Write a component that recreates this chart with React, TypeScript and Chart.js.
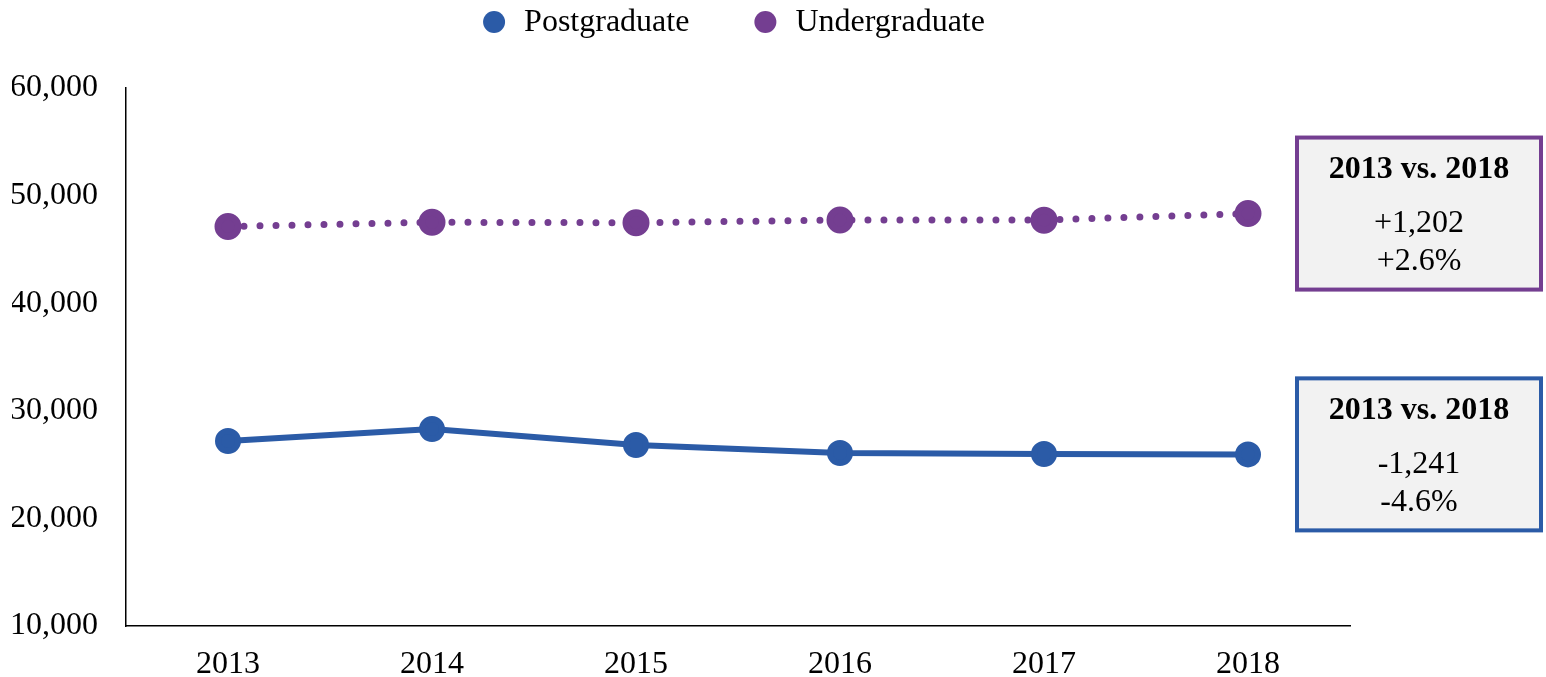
import React, { useEffect, useRef } from 'react';
import { Chart, registerables } from 'chart.js';

Chart.register(...registerables);

const years = ['2013', '2014', '2015', '2016', '2017', '2018'];
const postgraduate = [27190, 28300, 26820, 26080, 25990, 25950];
const undergraduate = [47130, 47520, 47480, 47730, 47720, 48330];
const yTickValues = [10000, 20000, 30000, 40000, 50000, 60000];
const seriesNames = ['Postgraduate', 'Undergraduate'];
const postgraduateBox = ['2013 vs. 2018', '-1,241', '-4.6%'];
const undergraduateBox = ['2013 vs. 2018', '+1,202', '+2.6%'];

const BLUE = '#2B5BA7';
const PURPLE = '#743E91';
const FONT = "'Liberation Serif', 'Times New Roman', serif";
const FS = 32;

const legendPlugin = {
  id: 'customLegend',
  afterDraw(chart: any) {
    const { ctx, chartArea } = chart;
    ctx.save();
    ctx.font = `${FS}px ${FONT}`;
    ctx.textBaseline = 'middle';
    ctx.textAlign = 'left';
    const items = chart.data.datasets.map((d: any) => ({
      text: d.label,
      color: d.pointBackgroundColor,
      w: ctx.measureText(d.label).width,
    }));
    const r = 11;
    const toText = 30;
    const gap = 76;
    let total = 0;
    items.forEach((it: any, i: number) => {
      total += r + toText + it.w + (i < items.length - 1 ? gap - r : 0);
    });
    let x = (chartArea.left + chartArea.right) / 2 - 4 - total / 2;
    const y = 22;
    items.forEach((it: any) => {
      const cx = x + r;
      ctx.beginPath();
      ctx.arc(cx, y, r, 0, Math.PI * 2);
      ctx.fillStyle = it.color;
      ctx.fill();
      ctx.fillStyle = '#000';
      ctx.fillText(it.text, cx + toText, y + 1);
      x = cx + toText + it.w + gap - r;
    });
    ctx.restore();
  },
};

const boxPlugin = {
  id: 'calloutBoxes',
  afterDraw(chart: any) {
    const { ctx, chartArea } = chart;
    const boxes = [
      { ds: 0, lines: postgraduateBox, color: BLUE },
      { ds: 1, lines: undergraduateBox, color: PURPLE },
    ];
    boxes.forEach((b) => {
      const meta = chart.getDatasetMeta(b.ds);
      const pt = meta.data[meta.data.length - 1];
      const w = 248;
      const h = 156;
      const left = chartArea.right - 55;
      const top = pt.y - 78;
      ctx.save();
      ctx.fillStyle = '#F2F2F2';
      ctx.fillRect(left, top, w, h);
      ctx.lineWidth = 4;
      ctx.strokeStyle = b.color;
      ctx.strokeRect(left + 2, top + 2, w - 4, h - 4);
      ctx.fillStyle = '#000';
      ctx.textAlign = 'center';
      ctx.textBaseline = 'middle';
      const cx = left + w / 2;
      ctx.font = `bold ${FS}px ${FONT}`;
      ctx.fillText(b.lines[0], cx, top + 34);
      ctx.font = `${FS}px ${FONT}`;
      ctx.fillText(b.lines[1], cx, top + 88);
      ctx.fillText(b.lines[2], cx, top + 126);
      ctx.restore();
    });
  },
};

export default function App() {
  const ref = useRef<HTMLCanvasElement>(null);
  useEffect(() => {
    if (!ref.current) return;
    const chart = new Chart(ref.current, {
      type: 'line',
      data: {
        labels: years,
        datasets: [
          {
            label: seriesNames[0],
            data: postgraduate,
            borderColor: BLUE,
            backgroundColor: BLUE,
            pointBackgroundColor: BLUE,
            pointBorderColor: BLUE,
            borderWidth: 6,
            pointRadius: 10,
            pointHoverRadius: 10,
            tension: 0,
          },
          {
            label: seriesNames[1],
            data: undergraduate,
            borderColor: PURPLE,
            backgroundColor: PURPLE,
            pointBackgroundColor: PURPLE,
            pointBorderColor: PURPLE,
            borderWidth: 7,
            borderDash: [0, 16],
            borderCapStyle: 'round',
            pointRadius: 10,
            pointHoverRadius: 10,
            tension: 0,
          },
        ],
      },
      options: {
        animation: false,
        responsive: true,
        maintainAspectRatio: false,
        layout: { padding: { left: 12, right: 196, top: 88, bottom: 0 } },
        plugins: {
          legend: { display: false },
          tooltip: { enabled: false },
        },
        scales: {
          x: {
            offset: true,
            grid: { display: false, drawTicks: false },
            border: { display: true, color: '#000', width: 1.5 },
            afterFit(axis: any) {
              axis.height = 51;
            },
            ticks: {
              color: '#000',
              padding: 23,
              font: { family: FONT, size: FS, lineHeight: 1 },
            },
          },
          y: {
            min: 10000,
            max: 60000,
            afterBuildTicks(axis: any) {
              axis.ticks = yTickValues.map((v) => ({ value: v }));
            },
            afterFit(axis: any) {
              axis.width = 114;
            },
            grid: { display: false, drawTicks: false },
            border: { display: true, color: '#000', width: 1.5 },
            ticks: {
              color: '#000',
              padding: 28,
              font: { family: FONT, size: FS, lineHeight: 1 },
              callback: (v: any) => Number(v).toLocaleString('en-US'),
            },
          },
        },
      },
      plugins: [legendPlugin, boxPlugin],
    });
    return () => chart.destroy();
  }, []);
  return (
    <div style={{ position: 'fixed', left: 0, top: 0, width: 1546, height: 677 }}>
      <canvas ref={ref} />
    </div>
  );
}
